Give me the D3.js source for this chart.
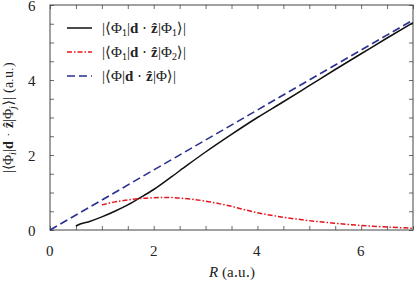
<!DOCTYPE html>
<html>
<head>
<meta charset="utf-8">
<script src="https://cdn.jsdelivr.net/npm/d3@7"></script>
<style>
  @font-face {
    font-family: "PlotSerif";
    src: local("Liberation Serif"), local("LiberationSerif"), local("LiberationSerif-Regular"),
         local("DejaVu Serif"), local("DejaVuSerif");
  }
  @font-face {
    font-family: "PlotSerif";
    font-weight: bold;
    src: local("Liberation Serif Bold"), local("LiberationSerif-Bold"),
         local("DejaVu Serif Bold"), local("DejaVuSerif-Bold");
  }
  @font-face {
    font-family: "PlotSerif";
    font-style: italic;
    src: local("Liberation Serif Italic"), local("LiberationSerif-Italic"),
         local("DejaVu Serif Italic"), local("DejaVuSerif-Italic");
  }
  body { margin: 0; background: #fff; }
  svg text { font-family: "PlotSerif", "Liberation Serif", "DejaVu Serif", "Times New Roman", Times, serif; }
</style>
</head>
<body>
<div id="chart"></div>
<script>
// values
const rDiag = [0.5, 0.52, 0.75, 1.0, 1.25, 1.5, 1.75, 2.0, 2.5, 3.0, 3.5, 4.0, 4.5, 5.0, 5.5, 6.0, 6.5, 7.0]
const dDiag = [0.1, 0.12, 0.22, 0.35, 0.5, 0.67, 0.87, 1.08, 1.58, 2.08, 2.55, 3.0, 3.42, 3.85, 4.28, 4.7, 5.12, 5.53]

const rOff = [1.0, 1.25, 1.5, 1.75, 2.0, 2.25, 2.5, 3.0, 3.5, 4.0, 4.5, 5.0, 5.5, 6.0, 6.5, 7.0]
const dOff = [0.67, 0.75, 0.8, 0.84, 0.86, 0.87, 0.85, 0.77, 0.63, 0.46, 0.34, 0.25, 0.18, 0.12, 0.08, 0.045]

const rMol = [0, 1, 2, 3, 4, 5, 6, 7]
const dMol = [0, 0.8, 1.6, 2.4, 3.2, 4.0, 4.8, 5.6]

const xTicks = [0, 2, 4, 6]
const yTicks = [0, 2, 4, 6]

const W = 415, H = 287
const margin = {left: 50, right: 2, top: 5, bottom: 57}
const width = W - margin.left - margin.right
const height = H - margin.top - margin.bottom

const svg = d3.select('#chart').append('svg')
  .attr('width', W).attr('height', H)

const g = svg.append('g')
  .attr('transform', 'translate(' + margin.left + ',' + margin.top + ')')

const x = d3.scaleLinear().domain([0, 7]).range([0, width])
const y = d3.scaleLinear().domain([0, 6]).range([height, 0])

const minorX = d3.range(0, 7.01, 0.5)
const minorY = d3.range(0, 6.01, 0.5)
const tickLen = 4
const frameColor = '#444'

// ticks pointing inward on all four sides
g.append('g').call(d3.axisBottom(x).tickValues(minorX).tickSize(-tickLen).tickFormat(''))
  .attr('transform', 'translate(0,' + height + ')')
g.append('g').call(d3.axisTop(x).tickValues(minorX).tickSize(-tickLen).tickFormat(''))
g.append('g').call(d3.axisLeft(y).tickValues(minorY).tickSize(-tickLen).tickFormat(''))
g.append('g').call(d3.axisRight(y).tickValues(minorY).tickSize(-tickLen).tickFormat(''))
  .attr('transform', 'translate(' + width + ',0)')
g.selectAll('.domain').remove()
g.selectAll('.tick line').attr('stroke', frameColor).attr('stroke-width', 0.8)

g.append('rect')
  .attr('width', width).attr('height', height)
  .attr('fill', 'none').attr('stroke', frameColor).attr('stroke-width', 1)

// tick labels
g.selectAll('.xlab').data(xTicks).enter().append('text')
  .attr('x', d => x(d)).attr('y', height + 26)
  .attr('text-anchor', 'middle').attr('font-size', 15).attr('fill', '#222')
  .text(d => d)
g.selectAll('.ylab').data(yTicks).enter().append('text')
  .attr('x', -14).attr('y', d => y(d) + 6)
  .attr('text-anchor', 'end').attr('font-size', 15).attr('fill', '#222')
  .text(d => d)

const line = d3.line().x(d => x(d[0])).y(d => y(d[1])).curve(d3.curveMonotoneX)

const series = [
  {r: rDiag, v: dDiag, color: '#111', dash: null, w: 1.5},
  {r: rOff, v: dOff, color: '#e8141c', dash: '5,2,1.5,2', w: 1.5},
  {r: rMol, v: dMol, color: '#2b2f8f', dash: '8,4', w: 1.6}
]

series.forEach(s => {
  g.append('path')
    .datum(s.r.map((r, i) => [r, s.v[i]]))
    .attr('d', line)
    .attr('fill', 'none')
    .attr('stroke', s.color)
    .attr('stroke-width', s.w)
    .attr('stroke-dasharray', s.dash)
})

// legend
const legend = svg.append('g')
const rows = [
  ['1', '1'],
  ['1', '2'],
  ['', '']
]
rows.forEach((row, i) => {
  const ly = 28 + i * 24
  const s = series[i]
  legend.append('line')
    .attr('x1', 67).attr('x2', 92).attr('y1', ly).attr('y2', ly)
    .attr('stroke', s.color).attr('stroke-width', s.w)
    .attr('stroke-dasharray', s.dash)
  const t = legend.append('text').attr('x', 102).attr('y', ly + 5)
    .attr('font-size', 15).attr('fill', '#222')
  t.append('tspan').text('|⟨Φ')
  if (row[0]) t.append('tspan').attr('font-size', 10).attr('dy', 3).text(row[0])
  t.append('tspan').attr('dy', row[0] ? -3 : 0).text('|')
  t.append('tspan').attr('font-weight', 'bold').text('d')
  t.append('tspan').text(' · ')
  t.append('tspan').attr('font-weight', 'bold').text('ẑ')
  t.append('tspan').text('|Φ')
  if (row[1]) t.append('tspan').attr('font-size', 10).attr('dy', 3).text(row[1])
  t.append('tspan').attr('dy', row[1] ? -3 : 0).text('⟩|')
})

// axis titles
const xt = svg.append('text')
  .attr('x', margin.left + width / 2).attr('y', 277)
  .attr('text-anchor', 'middle').attr('font-size', 15).attr('fill', '#222')
xt.append('tspan').attr('font-style', 'italic').text('R')
xt.append('tspan').text(' (a.u.)')

const yt = svg.append('text')
  .attr('transform', 'translate(13,' + (margin.top + height / 2) + ') rotate(-90)')
  .attr('text-anchor', 'middle').attr('font-size', 14).attr('fill', '#222')
yt.append('tspan').text('|⟨Φ')
yt.append('tspan').attr('font-size', 10).attr('font-style', 'italic').attr('dy', 3).text('i')
yt.append('tspan').attr('dy', -3).text('|')
yt.append('tspan').attr('font-weight', 'bold').text('d')
yt.append('tspan').text(' · ')
yt.append('tspan').attr('font-weight', 'bold').text('ẑ')
yt.append('tspan').text('|Φ')
yt.append('tspan').attr('font-size', 10).attr('font-style', 'italic').attr('dy', 3).text('j')
yt.append('tspan').attr('dy', -3).text('⟩|  (a.u.)')
</script>
</body>
</html>
